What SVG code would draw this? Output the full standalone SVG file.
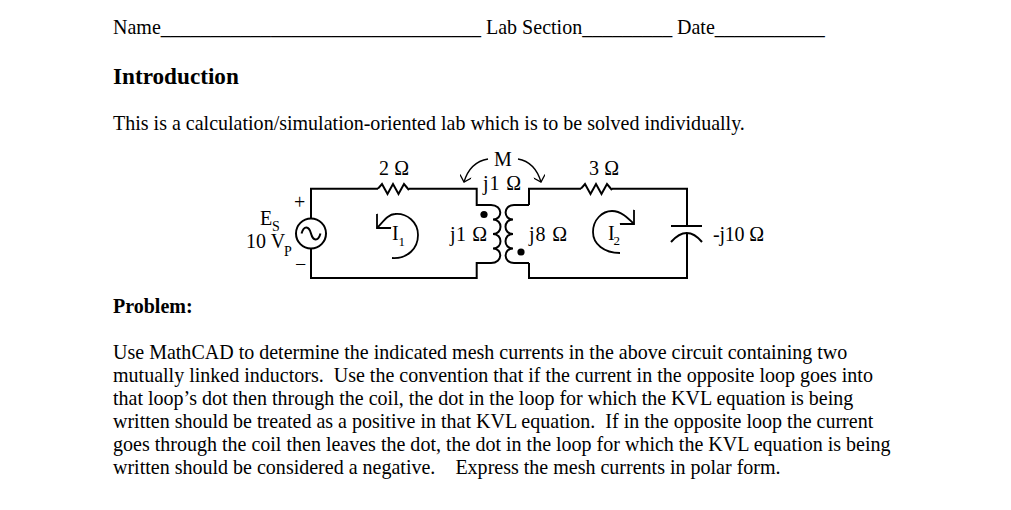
<svg xmlns="http://www.w3.org/2000/svg" width="1011" height="510" viewBox="0 0 1011 510">
<style>
text{font-family:"Liberation Serif","Times New Roman",serif;font-size:20.03px;fill:#000;white-space:pre}
.b{font-weight:bold;font-size:23.2px}
.p{font-weight:bold;font-size:20px}
.c{font-size:20px}
.s{font-size:14px}
.n{font-size:13px}
.w{fill:none;stroke:#000;stroke-width:2;stroke-linejoin:miter}
.t{fill:none;stroke:#000;stroke-width:1.3}
.a{fill:none;stroke:#000;stroke-width:1.8}
</style>
<defs>
<marker id="arr" viewBox="0 0 10 10" refX="9" refY="5" markerWidth="12" markerHeight="12" markerUnits="userSpaceOnUse" orient="auto"><path d="M4 0L9 5L4 10" fill="none" stroke="#000" stroke-width="1.1"/></marker>
<marker id="arrb" viewBox="0 0 10 10" refX="9" refY="5" markerWidth="20" markerHeight="20" markerUnits="userSpaceOnUse" orient="auto"><path d="M4 0L9 5L4 10" fill="none" stroke="#000" stroke-width="0.9"/></marker>
</defs>
<rect width="1011" height="510" fill="#fff"/>
<g id="header">
<text x="113" y="34">Name________________________________</text>
<text x="486" y="34">Lab Section_________</text>
<text x="677" y="34">Date___________</text>
<text class="b" x="113" y="84">Introduction</text>
<text x="113" y="130">This is a calculation/simulation-oriented lab which is to be solved individually.</text>
</g>
<g id="connectors">
<path class="w" d="M311 218.500V188.700H378M409 188.700H476.700V205H491M491 263H476.700V278H311V248.500"/>
<path class="w" d="M529 205V188.700H581M612 188.700H687V226M687 233V278H529V263M529 205H514M514 263H529"/>
<path class="t" d="M488 159Q470 162 464 182" marker-end="url(#arr)"/>
<path class="t" d="M518 159Q535 162 541 182" marker-end="url(#arr)"/>
<path class="a" d="M392 258C408 259 418 248 418 235C418 222 407 213 395 214C388 214 383 222 377 228" marker-end="url(#arrb)"/>
<path class="a" d="M620 253C604 253 593 244 593 232C593 220 602 211 612 211C621 211 628 218 634 224" marker-end="url(#arrb)"/>
</g>
<g id="R1"><path class="w" d="M378 188.700L382 184L387.500 194L393 184L398.500 194L404 184L409 190"/><text class="c" x="379" y="175" textLength="30">2 Ω</text></g>
<g id="R2"><path class="w" d="M581 188.700L585 184L590.500 194L596 184L601.500 194L607 184L612 190"/><text class="c" x="589" y="175" textLength="30">3 Ω</text></g>
<g id="source">
<circle class="w" cx="311" cy="233.500" r="15"/>
<path class="w" d="M301.500 233.500C304 225 309 226 311 233.500C313 241 318 242 320.500 233.500"/>
<text class="c" x="260" y="225">E</text><text class="s" x="272" y="231">S</text>
<text class="c" x="246" y="248">10 V</text><text class="s" x="284" y="256">P</text>
<text x="294" y="208.500" class="c">+</text>
<text x="295" y="271" class="c">−</text>
</g>
<g id="L1">
<path class="w" d="M491 205C503 205 503 219.500 493 219.500C503 219.500 503 234 493 234C503 234 503 248.500 493 248.500C503 248.500 503 263 491 263"/>
<circle cx="484" cy="214.500" r="3.600"/>
<text class="c" x="450" y="241" textLength="37">j1 Ω</text>
</g>
<g id="L2">
<path class="w" d="M514 205C503 205 503 219.500 513 219.500C503 219.500 503 234 513 234C503 234 503 248.500 513 248.500C503 248.500 503 263 514 263"/>
<circle cx="521" cy="252" r="3.600"/>
<text class="c" x="529" y="241" textLength="38">j8 Ω</text>
</g>
<g id="mutual">
<text class="c" x="494" y="166">M</text>
<text class="c" x="483" y="190" textLength="38">j1 Ω</text>
</g>
<g id="C"><path class="w" d="M671 226H702M671 242Q687 224 702 242"/><text class="c" x="713" y="241" textLength="51">-j10 Ω</text></g>
<g id="I1"><text class="c" x="392" y="240">I</text><text class="n" x="398.500" y="246">1</text></g>
<g id="I2"><text class="c" x="608" y="240">I</text><text class="n" x="613.500" y="245">2</text></g>
<g id="body">
<text class="p" x="113" y="313">Problem:</text>
<text x="113" y="359">Use MathCAD to determine the indicated mesh currents in the above circuit containing two</text>
<text x="113" y="382">mutually linked inductors.  Use the convention that if the current in the opposite loop goes into</text>
<text x="113" y="405">that loop’s dot then through the coil, the dot in the loop for which the KVL equation is being</text>
<text x="113" y="428">written should be treated as a positive in that KVL equation.  If in the opposite loop the current</text>
<text x="113" y="451">goes through the coil then leaves the dot, the dot in the loop for which the KVL equation is being</text>
<text x="113" y="474">written should be considered a negative.    Express the mesh currents in polar form.</text>
</g>
</svg>
